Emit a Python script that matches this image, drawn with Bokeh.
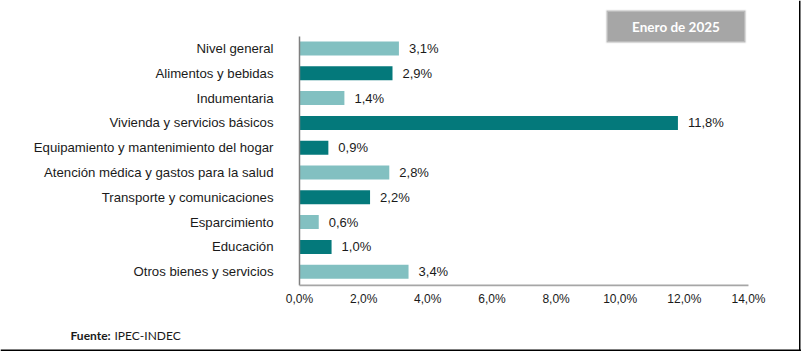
from bokeh.plotting import figure
from bokeh.models import ColumnDataSource, Range1d, Label, BoxAnnotation
from bokeh.core.properties import value
from bokeh.embed import file_html
from bokeh.resources import INLINE

categories = ["Nivel general", "Alimentos y bebidas", "Indumentaria",
              "Vivienda y servicios básicos", "Equipamiento y mantenimiento del hogar",
              "Atención médica y gastos para la salud", "Transporte y comunicaciones",
              "Esparcimiento", "Educación", "Otros bienes y servicios"]
values = [3.1, 2.9, 1.4, 11.8, 0.9, 2.8, 2.2, 0.6, 1.0, 3.4]
shade = ["light", "dark", "light", "dark", "dark", "light", "dark", "light", "dark", "light"]
tick_values = [0, 2, 4, 6, 8, 10, 12, 14]
tick_labels = ["0,0%", "2,0%", "4,0%", "6,0%", "8,0%", "10,0%", "12,0%", "14,0%"]
title_text = "Enero de 2025"
source_bold = "Fuente:"
source_text = "IPEC-INDEC"

LIGHT = "#82C0C1"
DARK = "#04797B"
TXT = "#1a1a1a"

# layout: pixel geometry of the plotting area within the 801x352 canvas
W, H = 801, 352
X0_PX, PX_PER_UNIT = 299.0, 32.07      # x=0 at 299px, 1% = 32.07px
Y0_PX, PX_PER_ROW = 48.0, 24.8         # first category centre at 48px
n = len(categories)

x_range = Range1d(-X0_PX / PX_PER_UNIT, (W - X0_PX) / PX_PER_UNIT)
y_range = Range1d((H - Y0_PX) / PX_PER_ROW, -Y0_PX / PX_PER_ROW)

src = ColumnDataSource(dict(
    idx=list(range(n)),
    cat=categories,
    val=values,
    color=[LIGHT if s == "light" else DARK for s in shade],
    lab=[("%.1f" % v).replace(".", ",") + "%" for v in values],
))
ticks = ColumnDataSource(dict(x=tick_values, y=[n - 1] * len(tick_values), lab=tick_labels))

p = figure(width=W, height=H, output_backend="svg", toolbar_location=None,
           x_range=x_range, y_range=y_range, x_axis_location=None, y_axis_location=None,
           min_border=0)
p.outline_line_color = None
p.grid.visible = False
p.background_fill_color = "white"
p.border_fill_color = "white"

# bars
p.hbar(y="idx", right="val", left=0, height=0.565, color="color", line_color=None, source=src)

# axis lines
y_top = -(Y0_PX - 36) / PX_PER_ROW
y_bot = n - 0.5 + 0.05
p.segment(x0=[0], y0=[y_top], x1=[0], y1=[y_bot], line_color="#7F7F7F", line_width=1.5)
p.segment(x0=[0], y0=[y_bot], x1=[tick_values[-1]], y1=[y_bot],
          line_color="#A6A6A6", line_width=1.8)

# category labels
p.text(x=0, y="idx", text="cat", source=src, x_offset=-26, text_align="right",
       text_baseline="middle", text_font=value("Liberation Sans"),
       text_font_size="13.2px", text_color=TXT)

# value labels
p.text(x="val", y="idx", text="lab", source=src, x_offset=10, text_align="left",
       text_baseline="middle", text_font=value("Liberation Sans"),
       text_font_size="13px", text_color=TXT)

# tick labels
p.text(x="x", y="y", text="lab", source=ticks, y_offset=27, text_align="center",
       text_baseline="middle", text_font=value("Liberation Sans"),
       text_font_size="12px", text_color=TXT)

# title box
p.add_layout(BoxAnnotation(left=606, right=745, top=10, bottom=42,
                           left_units="canvas", right_units="canvas",
                           top_units="canvas", bottom_units="canvas",
                           fill_color="#A6A6A6", fill_alpha=1,
                           line_color="#EBEBEB", line_width=3))
p.add_layout(Label(x=675.5, y=26, x_units="canvas", y_units="canvas", text=title_text,
                   text_align="center", text_baseline="middle", text_font="Lato",
                   text_font_style="bold", text_font_size="13.5px", text_color="white"))

# source
p.add_layout(Label(x=70, y=335, x_units="canvas", y_units="canvas", text=source_bold,
                   text_baseline="middle", text_font="Lato", text_font_style="bold",
                   text_font_size="12px", text_color=TXT))
p.add_layout(Label(x=114, y=335, x_units="canvas", y_units="canvas", text=source_text,
                   text_baseline="middle", text_font="Lato",
                   text_font_size="12px", text_color=TXT))

# page border (right and bottom)
p.add_layout(BoxAnnotation(left=0, right=W, top=349, bottom=350.5,
                           left_units="canvas", right_units="canvas",
                           top_units="canvas", bottom_units="canvas",
                           fill_color="black", fill_alpha=1, line_color=None))
p.add_layout(BoxAnnotation(left=798.5, right=800, top=0, bottom=350.5,
                           left_units="canvas", right_units="canvas",
                           top_units="canvas", bottom_units="canvas",
                           fill_color="black", fill_alpha=1, line_color=None))

open("out.html", "w").write(file_html(p, INLINE))
